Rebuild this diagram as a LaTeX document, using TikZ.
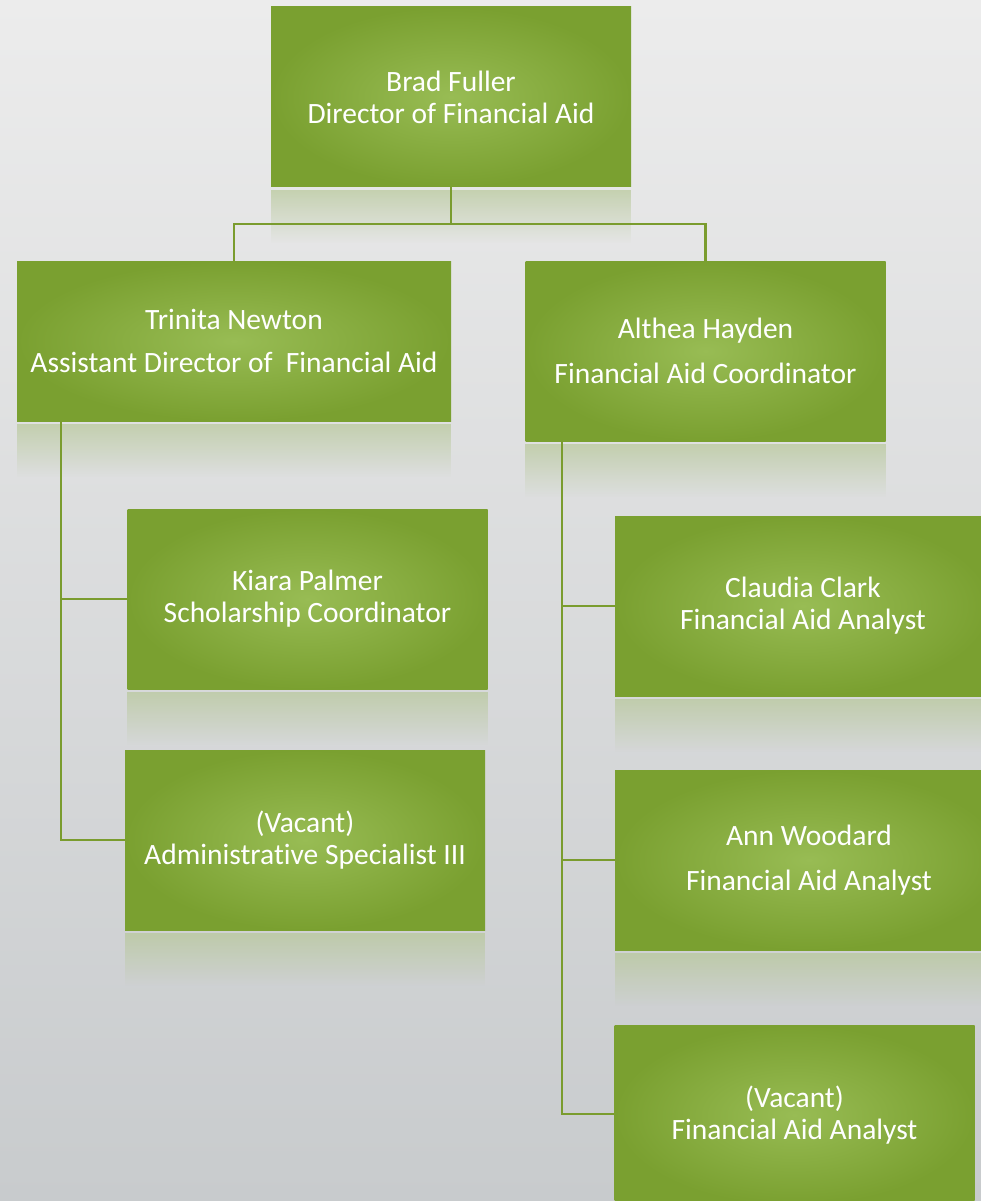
\documentclass[tikz,border=0pt]{standalone}
\usepackage{fontspec}
\setmainfont[Ligatures=NoCommon]{Carlito}
\usetikzlibrary{fadings}
\definecolor{bgtop}{RGB}{236,236,236}
\definecolor{bgmid}{RGB}{243,243,243}
\definecolor{bgbot}{RGB}{200,203,205}
\definecolor{boxin}{RGB}{152,188,84}
\definecolor{boxout}{RGB}{122,160,48}
\definecolor{linecol}{RGB}{122,156,46}
\definecolor{reflcol}{RGB}{180,198,148}
\tikzset{
  orgbox/.style={rectangle, inner sep=0pt, inner color=boxin, outer color=boxout,
    text=white, align=center, minimum width=360pt, minimum height=180pt,
    font=\fontsize{29.5}{32}\selectfont},
  conn/.style={draw=linecol, line width=2.2pt},
  refl/.style={fill=reflcol, opacity=0.65, path fading=south}
}
\newcommand{\reflect}[1]{\fill[refl] ([yshift=-3pt]#1.south west) rectangle ([yshift=-56pt]#1.south east);}
\begin{document}
\begin{tikzpicture}[x=1pt,y=-1pt]
\useasboundingbox (0,0) rectangle (981,1201);
\clip (0,0) rectangle (981,1201);
\shade[top color=bgtop, middle color=bgmid, bottom color=bgbot] (0,0) rectangle (981,1201);

\node[orgbox] (brad) at (451,97) {Brad Fuller\\Director of Financial Aid};
\node[orgbox, minimum width=434pt, minimum height=160pt] (trin) at (234,341)
  {Trinita Newton\\[11pt]Assistant Director of\ \ Financial Aid};
\node[orgbox] (alth) at (705.5,351) {Althea Hayden\\[13pt]Financial Aid Coordinator};
\node[orgbox] (kiara) at (307.5,599) {Kiara Palmer\\Scholarship Coordinator};
\node[orgbox] (admin) at (305,840) {(Vacant)\\Administrative Specialist III};
\node[orgbox, minimum width=376pt] (claud) at (803,606) {Claudia Clark\\Financial Aid Analyst};
\node[orgbox, minimum width=388pt] (ann) at (809,860) {Ann Woodard\\[13pt]Financial Aid Analyst};
\node[orgbox] (vac2) at (794.5,1115) {(Vacant)\\Financial Aid Analyst};

\reflect{brad}
\reflect{trin}
\reflect{alth}
\reflect{kiara}
\reflect{admin}
\reflect{claud}
\reflect{ann}

\coordinate (bradj) at (451,224);
\coordinate (trinj) at (61,421);
\coordinate (althj) at (562,441);
\draw[conn] (brad.south) -- (bradj);
\draw[conn] (bradj) -| (trin.north);
\draw[conn] (bradj) -| (alth.north);
\draw[conn] (trinj) |- (kiara.west);
\draw[conn] (trinj) |- (admin.west);
\draw[conn] (althj) |- (claud.west);
\draw[conn] (althj) |- (ann.west);
\draw[conn] (althj) |- ([yshift=1pt]vac2.west);
\end{tikzpicture}
\end{document}
